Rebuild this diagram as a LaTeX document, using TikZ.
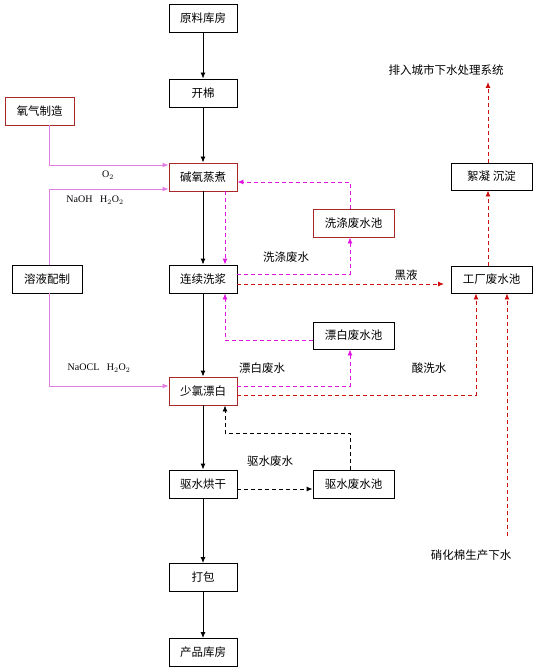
\documentclass[tikz,border=0pt]{standalone}
\usepackage{fontspec}
\newfontfamily\cjk{Noto Sans CJK SC}
\newfontfamily\latinlbl{Liberation Serif}
\usetikzlibrary{arrows.meta,calc}
\definecolor{boxred}{RGB}{170,40,40}
\definecolor{pinkline}{RGB}{228,125,228}
\definecolor{magdash}{RGB}{225,20,225}
\definecolor{reddash}{RGB}{205,15,15}
\tikzset{
  box/.style={draw=black,line width=0.9pt,fill=white,minimum height=28pt,minimum width=68pt,inner sep=0pt,font=\cjk\fontsize{11.5}{13}\selectfont},
  redbox/.style={box,draw=boxred},
  lbl/.style={inner sep=0pt,font=\cjk\fontsize{11.5}{13}\selectfont},
  chem/.style={inner sep=0pt,font=\latinlbl\fontsize{10}{11}\selectfont},
  tip/.style={-{Latex[length=6pt,width=5pt]}},
  flow/.style={tip,draw=black,line width=0.9pt},
  pinkflow/.style={tip,draw=pinkline,line width=0.9pt},
  magflow/.style={tip,draw=magdash,line width=0.9pt,dash pattern=on 4pt off 3pt},
  redflow/.style={tip,draw=reddash,line width=0.9pt,dash pattern=on 4pt off 3pt},
  blkflow/.style={tip,draw=black,line width=0.9pt,dash pattern=on 4pt off 3pt},
}
\begin{document}
\begin{tikzpicture}[x=1pt,y=-1pt]
\useasboundingbox[fill=white] (0,0) rectangle (538,671);
% main column
\node[box] (n1) at (203,18) {原料库房};
\node[box] (n2) at (203,93) {开棉};
\node[redbox] (n3) at (203,177) {碱氧蒸煮};
\node[box] (n4) at (203,279) {连续洗浆};
\node[redbox] (n5) at (203,391) {少氯漂白};
\node[box] (n6) at (203,484) {驱水烘干};
\node[box] (n7) at (203,577.5) {打包};
\node[box] (n8) at (203,652.5) {产品库房};
% left side
\node[redbox,minimum width=69pt] (ox) at (39.5,111) {氧气制造};
\node[box,minimum width=70pt] (sol) at (47,279) {溶液配制};
% right side
\node[redbox,minimum width=81pt] (wash) at (353.5,223) {洗涤废水池};
\node[box,minimum width=81pt,minimum height=27pt] (bleach) at (353.5,335.5) {漂白废水池};
\node[box,minimum width=81pt] (dry) at (353.5,484) {驱水废水池};
\node[box,minimum width=81pt,minimum height=27pt] (floc) at (491.5,176.5) {絮凝\ 沉淀};
\node[box,minimum width=81pt,minimum height=27pt] (fac) at (491.5,279.5) {工厂废水池};
\node[lbl] (city) at (446,70) {排入城市下水处理系统};
\node[lbl] (nitro) at (471,555) {硝化棉生产下水};
% coordinates
\coordinate (lx) at (49,0);
\coordinate (wx) at (350,0);
\coordinate (mx) at (225,0);
\coordinate (rx) at (488,0);
\coordinate (ax) at (476,0);
\coordinate (nx) at (507,0);
\coordinate (bk) at (444,284);
\coordinate (cityin) at (488,82);
\coordinate (nitroout) at (507,536);
\coordinate (dryturn) at (225,433);
% main flow
\draw[flow] (n1) -- (n2);
\draw[flow] (n2) -- (n3);
\draw[flow] (n3) -- (n4);
\draw[flow] (n4) -- (n5);
\draw[flow] (n5) -- (n6);
\draw[flow] (n6) -- (n7);
\draw[flow] (n7) -- (n8);
% pink supply lines
\draw[pinkflow] (lx |- ox.south) |- ([yshift=12pt]n3.west);
\draw[pinkflow] (lx |- sol.north) |- ([yshift=-12pt]n3.west);
\draw[pinkflow] (lx |- sol.south) |- ([yshift=5pt]n5.west);
% magenta recycle
\draw[magflow] (wx |- wash.north) |- ([yshift=-5pt]n3.east);
\draw[magflow] (mx |- n3.south) -- (mx |- n4.north);
\draw[magflow] ([yshift=5pt]n4.east) -| (wx |- wash.south);
\draw[magflow] ([yshift=-4.5pt]bleach.west) -| (mx |- n4.south);
\draw[magflow] ([yshift=5pt]n5.east) -| (wx |- bleach.south);
% red waste lines
\draw[redflow] ([yshift=-5pt]n4.east) -- (bk);
\draw[redflow] ([yshift=-4pt]n5.east) -| (ax |- fac.south);
\draw[redflow] (rx |- fac.north) -- (rx |- floc.south);
\draw[redflow] (rx |- floc.north) -- (cityin);
\draw[redflow] (nitroout) -- (nx |- fac.south);
% black dashed
\draw[blkflow] ([yshift=-5pt]n6.east) -- ([yshift=-5pt]dry.west);
\draw[blkflow] (wx |- dry.north) |- (dryturn) -- (mx |- n5.south);
% labels
\node[chem] (lo2) at (108,175) {O$_2$};
\node[chem] (lnaoh) at (95,200) {NaOH\ \ \ H$_2$O$_2$};
\node[chem] (lnaocl) at (99,368) {NaOCL\ \ \ H$_2$O$_2$};
\node[lbl] (lwash) at (286,257) {洗涤废水};
\node[lbl] (lblack) at (406,275) {黑液};
\node[lbl] (lbleach) at (262,368) {漂白废水};
\node[lbl] (lacid) at (429,368) {酸洗水};
\node[lbl] (ldry) at (270,461) {驱水废水};
\end{tikzpicture}
\end{document}
